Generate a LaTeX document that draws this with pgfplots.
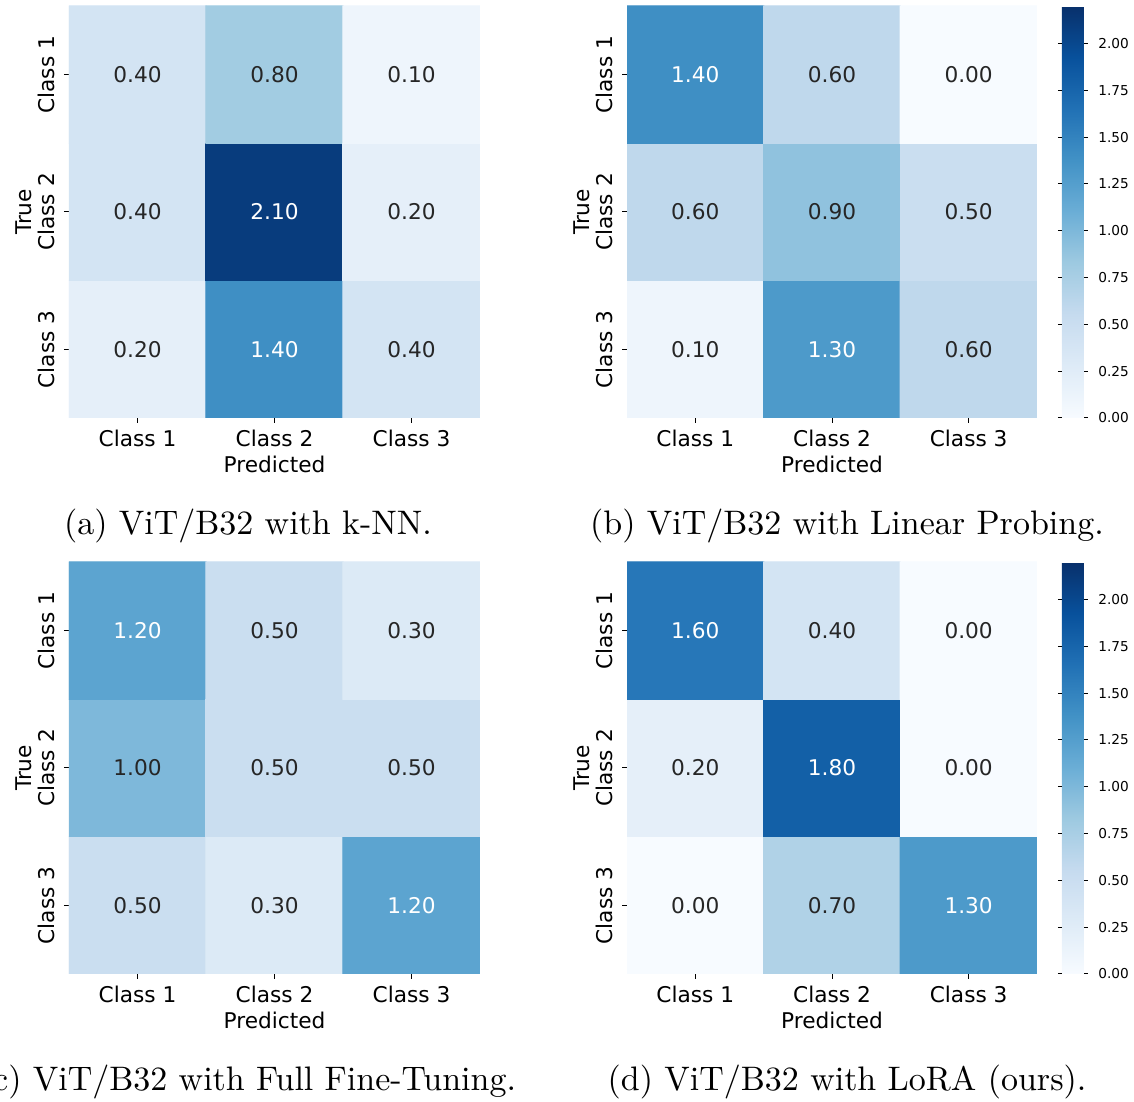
\documentclass[border=0pt]{standalone}
\usepackage{fontspec}
\usepackage{pgfplots}
\usepackage{pgfplotstable}
\pgfplotsset{compat=1.18}
\newfontfamily\dv{DejaVu Sans}
\newcommand\tickfont{\fontsize{6.5}{7.5}\selectfont\dv}
\newcommand\cbfont{\fontsize{4.1}{5}\selectfont\dv}
\newcommand\capfont{\fontsize{10.2}{12}\selectfont}
\definecolor{tdark}{HTML}{262626}

\pgfplotsset{
  colormap={blues}{rgb255(0)=(247,251,255) rgb255(1)=(222,235,247) rgb255(2)=(198,219,239)
    rgb255(3)=(158,202,225) rgb255(4)=(107,174,214) rgb255(5)=(66,146,198)
    rgb255(6)=(33,113,181) rgb255(7)=(8,81,156) rgb255(8)=(8,48,107)},
  hm/.style={
    width=123.3pt, height=123.6pt, scale only axis,
    xmin=-0.5, xmax=2.5, ymin=-0.5, ymax=2.5,
    enlargelimits=false,
    axis line style={draw=none},
    xtick={0,1,2}, xticklabels={Class 1,Class 2,Class 3},
    ytick={0,1,2}, yticklabels={Class 3,Class 2,Class 1},
    tick align=outside, xtick pos=left, ytick pos=left,
    major tick length=1.5pt, tick style={black, line width=0.3pt},
    ticklabel style={font=\tickfont},
    yticklabel style={rotate=90, anchor=south},
    xticklabel shift=-1.5pt,
    yticklabel shift=-0.9pt,
    xlabel={Predicted}, ylabel={True},
    label style={font=\tickfont},
    xlabel style={yshift=4pt},
    ylabel style={yshift=-4.8pt},
    colormap name=blues, point meta min=0, point meta max=2.2,
  },
  cb/.style={
    colorbar,
    colorbar style={
      at={(parent axis.north east)}, anchor=north west, xshift=-1.04pt,
      width=6.6pt,
      axis line style={draw=none},
      ytick={0,0.25,...,2},
      ymin=0, ymax=2.2,
      tick align=outside,
      major tick length=1.2pt, tick style={black, line width=0.3pt},
      yticklabel shift=-0.4pt,
      yticklabel style={font=\cbfont, /pgf/number format/.cd, fixed, fixed zerofill, precision=2, assume math mode=true},
    },
  },
  cells/.style={matrix plot*, mesh/cols=3, point meta=explicit},
  txt/.style={only marks, mark=none, point meta=explicit symbolic,
    visualization depends on={\thisrow{c} \as \cval},
    nodes near coords={\ifdim\cval pt>1.1pt\color{white}\else\color{tdark}\fi\pgfplotspointmeta},
    nodes near coords align=center,
    every node near coord/.append style={font=\tickfont, anchor=center}},
}

\pgfplotstableread{
x y c l
0 0 0.2 0.20
1 0 1.4 1.40
2 0 0.4 0.40
0 1 0.4 0.40
1 1 2.1 2.10
2 1 0.2 0.20
0 2 0.4 0.40
1 2 0.8 0.80
2 2 0.1 0.10
}\dataA
\pgfplotstableread{
x y c l
0 0 0.1 0.10
1 0 1.3 1.30
2 0 0.6 0.60
0 1 0.6 0.60
1 1 0.9 0.90
2 1 0.5 0.50
0 2 1.4 1.40
1 2 0.6 0.60
2 2 0.0 0.00
}\dataB
\pgfplotstableread{
x y c l
0 0 0.5 0.50
1 0 0.3 0.30
2 0 1.2 1.20
0 1 1.0 1.00
1 1 0.5 0.50
2 1 0.5 0.50
0 2 1.2 1.20
1 2 0.5 0.50
2 2 0.3 0.30
}\dataC
\pgfplotstableread{
x y c l
0 0 0.0 0.00
1 0 0.7 0.70
2 0 1.3 1.30
0 1 0.2 0.20
1 1 1.8 1.80
2 1 0.0 0.00
0 2 1.6 1.60
1 2 0.4 0.40
2 2 0.0 0.00
}\dataD

\begin{document}
\begin{tikzpicture}
\begin{axis}[hm, at={(20.7pt,-1.8pt)}, anchor=north west]
  \addplot[cells] table[x=x,y=y,meta=c] {\dataA};
  \addplot[txt] table[x=x,y=y,meta=l] {\dataA};
\end{axis}
\begin{axis}[hm, cb, width=123pt, at={(188.1pt,-1.8pt)}, anchor=north west]
  \addplot[cells] table[x=x,y=y,meta=c] {\dataB};
  \addplot[txt] table[x=x,y=y,meta=l] {\dataB};
\end{axis}
\begin{axis}[hm, at={(20.7pt,-168.6pt)}, anchor=north west]
  \addplot[cells] table[x=x,y=y,meta=c] {\dataC};
  \addplot[txt] table[x=x,y=y,meta=l] {\dataC};
\end{axis}
\begin{axis}[hm, cb, width=123pt, at={(188.1pt,-168.6pt)}, anchor=north west]
  \addplot[cells] table[x=x,y=y,meta=c] {\dataD};
  \addplot[txt] table[x=x,y=y,meta=l] {\dataD};
\end{axis}
\node[anchor=base, font=\capfont] at (74.4pt,-160.5pt) {(a) ViT/B32 with k-NN.};
\node[anchor=base, font=\capfont] at (254.1pt,-160.5pt) {(b) ViT/B32 with Linear Probing.};
\node[anchor=base, font=\capfont] at (74.4pt,-327.3pt) {(c) ViT/B32 with Full Fine-Tuning.};
\node[anchor=base, font=\capfont] at (254.1pt,-327.3pt) {(d) ViT/B32 with LoRA (ours).};
\pgfresetboundingbox
\path[use as bounding box] (0,0) rectangle (340.2pt,-330.6pt);
\end{tikzpicture}
\end{document}
